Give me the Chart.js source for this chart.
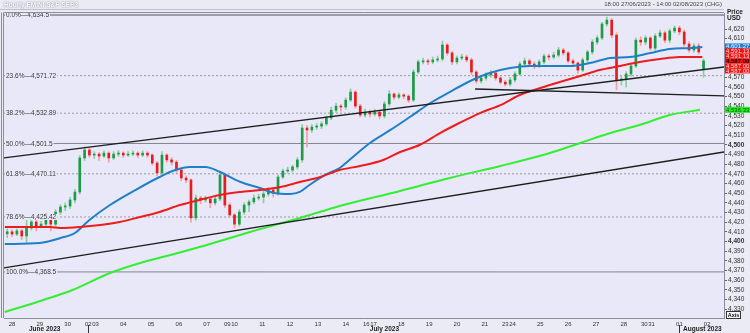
<!DOCTYPE html>
<html lang="en">
<head>
<meta charset="UTF-8">
<title>Hourly EMINI S&amp;P SEP3</title>
<script src="https://cdn.jsdelivr.net/npm/chart.js"></script>
<style>
  html, body { margin: 0; padding: 0; background: #ebebf6; }
  #chart { display: block; }
</style>
</head>
<body>
<canvas id="chart" width="750" height="333"></canvas>
<script>
// candles, one per 4 hourly bars (x = trading hours since 18:00 27/06)
const opens = [4408,4410,4407.75,4411,4405.75,4414,4420.25,4416,4418,4426.5,4418,4430.5,4435.75,4436.75,4443,4451.25,4486.5,4494.75,4489.5,4490.5,
  4488.5,4491.5,4486.5,4490.5,4491.5,4489.5,4490.5,4491.5,4489.5,4491.5,4489.5,4481.25,4471,4489.5,4484.5,4482.25,4474,4465.75,4463.75,4424.5,
  4445,4443,4444,4440,4444,4469,4437.75,4427.5,4418,4430.5,4437.75,4441,4445,4446,4449.25,4453.25,4450.25,4466.75,4473,4474,
  4477.25,4484.5,4517.5,4515.5,4518.5,4519.5,4521.75,4528,4536,4540.25,4539.25,4546.5,4554.75,4540.25,4531,4534,4532,4534,4530,4542.5,
  4552.75,4549.5,4551.75,4550.5,4546.5,4575.5,4586,4587,4586,4588,4589,4603.5,4595.25,4586,4590,4591,4588,4575.5,4566.25,4569.25,
  4572.5,4574.5,4569.25,4565,4563,4567.25,4573.5,4583.75,4587,4583.75,4581.75,4586,4592,4591,4593,4598.25,4595.25,4587,4584.75,4577.5,
  4588,4596.25,4606.5,4610.75,4625.25,4629.25,4613.75,4567.25,4568.25,4573.5,4581.75,4608.5,4606.5,4610.75,4600.25,4612.75,4616,4608.5,4618,4621,
  4617,4604.5,4598.25,4602.5,4578];
const highs = [4413,4412,4413,4412.5,4422,4423,4422,4421,4429,4428,4433,4438,4440,4446,4454,4489,4498,4497,4493,4492,
  4494,4493,4493,4494,4493,4493,4494,4493,4494,4493,4491,4483,4493,4491,4487,4484,4476,4468,4465,4448,
  4447,4447,4446,4447,4473,4471,4440,4429,4433,4440,4443,4448,4449,4452,4456,4455,4469,4475,4477,4479,
  4487,4521,4520,4521,4522,4524,4530,4539,4543,4542,4549,4558,4556,4542,4537,4536,4537,4536,4545,4556,
  4554,4554,4553,4552,4578,4588,4590,4589,4591,4592,4607.5,4605,4597,4592,4594,4593,4590,4577,4571,4575,
  4577,4576,4571,4567,4570,4576,4586,4590,4589,4586,4588,4594,4594,4596,4601,4600,4597,4589,4586,4590,
  4598,4609,4613,4627,4632.5,4631,4616,4571,4576,4584,4611,4612,4613,4612,4615,4619,4618,4620,4623,4623,
  4619,4607,4605,4605,4589];
const lows = [4404,4405,4406,4402,4399,4412,4411,4414,4416,4411,4416,4428,4432,4434,4440,4449,4484,4487,4486,4484,
  4487,4482,4485,4488,4487,4488,4489,4487,4488,4487,4479,4468,4469,4482,4479,4471,4463,4461,4420,4422,
  4439,4441,4435,4438,4442,4435,4425,4414,4416,4428,4431,4439,4443,4440,4447,4446,4448,4465,4471,4472,
  4475,4482,4498,4513,4516,4517,4520,4526,4534,4535,4537,4545,4538,4529,4529,4529,4530,4527,4528,4540,
  4547,4548,4548,4544,4545,4574,4584,4583,4584,4586,4587,4593,4583,4584,4588,4586,4573,4564,4564,4567,
  4570,4567,4563,4561,4561,4565,4572,4582,4581,4579,4580,4584,4588,4589,4591,4593,4585,4582,4574,4576,
  4586,4594,4604,4609,4623,4611,4557,4562,4560,4571,4580,4603,4604,4598,4598,4611,4606,4606,4616,4614,
  4602,4596,4596,4594,4570];
const closes = [4410,4407.75,4411,4405.75,4414,4420.25,4416,4418,4426.5,4418,4430.5,4435.75,4436.75,4443,4451.25,4486.5,4494.75,4489.5,4490.5,4488.5,
  4491.5,4486.5,4490.5,4491.5,4489.5,4490.5,4491.5,4489.5,4491.5,4489.5,4481.25,4471,4489.5,4484.5,4482.25,4474,4465.75,4463.75,4424.5,4445,
  4443,4444,4440,4444,4469,4437.75,4427.5,4418,4430.5,4437.75,4441,4445,4446,4449.25,4453.25,4450.25,4466.75,4473,4474,4477.25,
  4484.5,4517.5,4515.5,4518.5,4519.5,4521.75,4528,4536,4540.25,4539.25,4546.5,4554.75,4540.25,4531,4534,4532,4534,4530,4542.5,4552.75,
  4549.5,4551.75,4550.5,4546.5,4575.5,4586,4587,4586,4588,4589,4603.5,4595.25,4586,4590,4591,4588,4575.5,4566.25,4569.25,4572.5,
  4574.5,4569.25,4565,4563,4567.25,4573.5,4583.75,4587,4583.75,4581.75,4586,4592,4591,4593,4598.25,4595.25,4587,4584.75,4577.5,4588,
  4596.25,4606.5,4610.75,4625.25,4629.25,4613.75,4567.25,4568.25,4573.5,4581.75,4608.5,4606.5,4610.75,4600.25,4612.75,4616,4608.5,4618,4621,4617,
  4604.5,4598.25,4602.5,4596.25,4587];

// moving averages (hour, value)
const blueHours = [0,29,46,58,70,87,108,128,141,153,166,178,195,211,223,236,244,252,265,277,285,302,319,335,352,368,385,401,418,434,451,467,484,501,517,534,550,567,577];
const blueVals = [4397.4,4398.5,4403.6,4408.8,4422.3,4437.8,4453.3,4466.8,4474.0,4477.2,4477.2,4472.0,4461.6,4455.4,4450.2,4449.2,4451.3,4458.5,4468.9,4476.1,4484.4,4502.0,4515.5,4528.9,4543.4,4554.8,4566.2,4574.5,4579.6,4581.7,4581.7,4581.7,4584.8,4590.0,4591.0,4595.2,4599.3,4600.3,4601.27];
const redHours = [0,37,46,62,79,95,112,128,145,161,178,195,211,228,244,261,277,294,313,327,343,360,376,393,410,426,443,459,476,492,509,525,542,558,577];
const redVals = [4415.0,4415.0,4414.0,4415.0,4417.1,4420.2,4425.4,4430.6,4437.8,4443.0,4448.2,4451.3,4453.3,4456.4,4461.6,4466.8,4474.0,4478.2,4484.4,4492.7,4499.9,4512.3,4522.7,4533.0,4541.3,4551.7,4558.9,4565.1,4571.4,4577.6,4581.7,4585.9,4589.0,4591.0,4591.13];
const greenHours = [0,32,56,87,112,137,161,203,244,277,327,368,410,451,476,501,525,550,575];
const greenVals = [4327.0,4339.5,4349.8,4367.4,4377.8,4386.0,4394.3,4409.9,4424.3,4436.8,4452.3,4465.8,4478.2,4491.6,4502.0,4512.3,4520.6,4531.0,4536.33];

// trend lines: [hour, price] end points
const upperChannel = [[-0.66, 4486.5], [594.9, 4580.7]];
const lowerChannel = [[-0.66, 4372.6], [594.9, 4492.7]];
const supportLine = [[389, 4557.9], [594.9, 4550.7]];

// fibonacci retracement
const fibPct = ['0.0%', '23.6%', '38.2%', '50.0%', '61.8%', '78.6%', '100.0%'];
const fibLevels = [4634.5, 4571.72, 4532.89, 4501.5, 4470.11, 4425.42, 4368.5];

// axis labels
const dayLabels = ['28','29','30','02','03','04','05','06','07','09','10','11','12','13','14','16','17','18','19','20','21','23','24','25','26','27','28','30','31','01','02'];
const dayHours = [6,29,52,69,75,98,121,144,167,184,190,213,236,259,282,299,305,328,351,374,397,414,420,443,466,489,512,529,535,558,581];
const monthLabels = ['June 2023', 'July 2023', 'August 2023'];
const monthHours = [33, 314, 577];
const monthStarts = [69, 558];
const yTicks = [4330,4340,4350,4360,4370,4380,4390,4400,4410,4420,4430,4440,4450,4460,4470,4480,4490,4500,4510,4520,4530,4540,4550,4560,4570,4580,4590,4600,4610,4620];

// price tags on the right
const tagValues = [4601.27, 4591.13, 4591.13, 4587.00, 4587.00, 4587.00];
const greenTag = 4536.33;

const FONT = '"Liberation Sans", Arial, sans-serif';
Chart.defaults.font.family = FONT;
const X_MIN = -0.66, X_MAX = 594.9;

const xs = closes.map((c, i) => i * 4 + 2);
const up = closes.map((c, i) => c >= opens[i]);
const fmt = v => v.toLocaleString('en-US', { maximumFractionDigits: 2 });
const fmt2 = v => v.toLocaleString('en-US', { minimumFractionDigits: 2, maximumFractionDigits: 2 });

const pts = (hs, vs) => hs.map((h, i) => ({ x: h, y: vs[i] }));
const seg = p => p.map(q => ({ x: q[0], y: q[1] }));

const datasets = [];

fibLevels.forEach((lv, k) => {
    const solid = ['0.0%', '50.0%', '100.0%'].includes(fibPct[k]);
    datasets.push({
        type: 'line', data: [{ x: X_MIN, y: lv }, { x: X_MAX, y: lv }],
        borderColor: solid ? '#85858f' : '#9a9aa2', borderWidth: solid ? (k === 0 ? 1.6 : 1) : 1,
        borderDash: solid ? [] : [2, 2], pointRadius: 0, order: 30
    });
});

datasets.push({
    type: 'bar', data: xs.map((x, i) => ({ x: x, y: [lows[i], highs[i]] })),
    backgroundColor: up.map(u => u ? '#8ccf9c' : '#f2a0a0'),
    barThickness: 1, grouped: false, borderWidth: 0, order: 12
});
datasets.push({
    type: 'bar', data: xs.map((x, i) => ({ x: x, y: [opens[i], closes[i]] })),
    backgroundColor: up.map(u => u ? '#1f9a48' : '#e81c1c'),
    barThickness: 2, minBarLength: 1, grouped: false, borderWidth: 0, order: 11
});

const maLine = (data, color) => ({
    type: 'line', data: data, borderColor: color, borderWidth: 2, pointRadius: 0,
    cubicInterpolationMode: 'monotone', order: 5
});
datasets.push(maLine(pts(greenHours, greenVals), '#33ee33'));
datasets.push(maLine(pts(redHours, redVals), '#ee1c1c'));
datasets.push(maLine(pts(blueHours, blueVals), '#1f80c8'));

[upperChannel, lowerChannel, supportLine].forEach(l => {
    datasets.push({ type: 'line', data: seg(l), borderColor: '#1e1e1e', borderWidth: 1.3, pointRadius: 0, order: 2 });
});

const decor = {
    id: 'decor',
    beforeDraw(chart) {
        const { ctx, width, height, chartArea: a } = chart;
        ctx.save();
        ctx.fillStyle = '#ebebf6';
        ctx.fillRect(0, 0, width, height);
        ctx.fillStyle = '#e8e8f8';
        ctx.fillRect(a.left, a.top, a.right - a.left, a.bottom - a.top);
        ctx.restore();
    },
    afterDatasetsDraw(chart) {
        const { ctx, chartArea: a, scales: { y } } = chart;
        ctx.save();
        ctx.font = '6.5px ' + FONT;
        ctx.textBaseline = 'middle';
        fibLevels.forEach((lv, k) => {
            const py = y.getPixelForValue(lv);
            const txt = fibPct[k] + '\u2014' + fmt(lv);
            const w = ctx.measureText(txt).width;
            ctx.fillStyle = '#e8e8f8';
            ctx.fillRect(a.left + 1, py - 3, w + 2, 6);
            ctx.fillStyle = '#3a3a3a';
            ctx.fillText(txt, a.left + 2, py + 0.5);
        });
        ctx.restore();
    },
    afterDraw(chart) {
        const { ctx, chartArea: a, scales: { x, y } } = chart;
        ctx.save();
        // frame
        ctx.strokeStyle = '#8d8d99';
        ctx.lineWidth = 1;
        ctx.beginPath();
        ctx.moveTo(a.left - 0.5, a.bottom); ctx.lineTo(a.left - 0.5, a.top - 0.5); ctx.lineTo(a.right, a.top - 0.5);
        ctx.moveTo(a.left - 2.5, a.bottom); ctx.lineTo(a.left - 2.5, a.top - 0.5);
        ctx.stroke();
        ctx.strokeStyle = '#c0c0cc';
        ctx.beginPath();
        ctx.moveTo(0, 9.5); ctx.lineTo(a.right, 9.5);
        ctx.stroke();

        // title
        ctx.font = 'bold 6.5px ' + FONT;
        ctx.textBaseline = 'middle';
        ctx.shadowColor = 'rgba(80,80,90,0.9)';
        ctx.shadowBlur = 1.5;
        ctx.fillStyle = '#ffffff';
        ctx.fillText('Hourly EMINI S&P SEP3', 4, 5);
        ctx.shadowBlur = 0;
        ctx.shadowColor = 'transparent';

        ctx.font = '6px ' + FONT;
        ctx.fillStyle = '#444';
        ctx.textAlign = 'right';
        ctx.fillText('18:00 27/06/2023 - 14:00 02/08/2023 (CHG)', a.right - 2, 4.5);
        ctx.textAlign = 'left';
        ctx.font = 'bold 6.5px ' + FONT;
        ctx.fillStyle = '#222';
        ctx.fillText('Price', a.right + 3, 12);
        ctx.fillText('USD', a.right + 3, 18);

        // month labels
        ctx.font = 'bold 6.5px ' + FONT;
        ctx.textAlign = 'center';
        monthLabels.forEach((m, k) => {
            ctx.fillText(m, x.getPixelForValue(monthHours[k]), 329);
        });
        ctx.strokeStyle = '#333';
        ctx.beginPath();
        monthStarts.forEach(h => {
            const px = Math.round(x.getPixelForValue(h)) + 0.5;
            ctx.moveTo(px, 325); ctx.lineTo(px, 333);
        });
        ctx.stroke();

        // price tags
        const rowH = 5;
        const anchor = y.getPixelForValue(tagValues[3]);
        ctx.textAlign = 'left';
        tagValues.forEach((v, k) => {
            const cy = anchor + (k - 3) * rowH;
            ctx.fillStyle = k === 0 ? '#2a7fd0' : '#f01010';
            ctx.fillRect(a.right + 1, cy - rowH / 2, 25, rowH);
            ctx.fillStyle = k === 3 ? '#111' : (k === 0 ? '#e8f0ff' : '#ffd8d8');
            ctx.font = (k === 3 ? 'bold ' : '') + '6px ' + FONT;
            ctx.fillText(fmt2(v), a.right + 2, cy + 0.5);
        });
        const gy = y.getPixelForValue(greenTag);
        ctx.fillStyle = '#22ee22';
        ctx.fillRect(a.right + 1, gy - 3, 25, 6);
        ctx.fillStyle = '#115511';
        ctx.font = '6px ' + FONT;
        ctx.fillText(fmt2(greenTag), a.right + 2, gy + 0.5);

        // axis box
        ctx.strokeStyle = '#333';
        ctx.strokeRect(a.right + 2.5, 311.5, 14, 7);
        ctx.fillStyle = '#f4f4fa';
        ctx.fillRect(a.right + 3, 312, 13, 6);
        ctx.fillStyle = '#111';
        ctx.font = 'bold 5.5px ' + FONT;
        ctx.textAlign = 'center';
        ctx.fillText('Axis', a.right + 9.5, 315.3);
        ctx.restore();
    }
};

new Chart(document.getElementById('chart'), {
    type: 'bar',
    data: { datasets: datasets },
    plugins: [decor],
    options: {
        responsive: false,
        animation: false,
        devicePixelRatio: 1,
        events: [],
        layout: { padding: { left: 4, top: 13, right: 0, bottom: 0 } },
        plugins: { legend: { display: false }, tooltip: { enabled: false } },
        scales: {
            x: {
                type: 'linear', min: X_MIN, max: X_MAX, offset: false,
                afterBuildTicks: s => { s.ticks = dayHours.map(v => ({ value: v })); },
                afterFit: s => { s.height = 15; },
                grid: { display: true, drawOnChartArea: false, drawTicks: false },
                border: { display: true, color: '#8d8d99' },
                ticks: {
                    autoSkip: false, maxRotation: 0, padding: 3, color: '#333',
                    font: { size: 6 },
                    callback: (v, i) => dayLabels[i]
                }
            },
            y: {
                type: 'linear', position: 'right', min: 4320.8, max: 4636.6,
                afterBuildTicks: s => { s.ticks = yTicks.map(v => ({ value: v })); },
                afterFit: s => { s.width = 26; },
                grid: { drawOnChartArea: false, drawTicks: true, tickLength: 3, color: '#666' },
                border: { display: true, color: '#8d8d99' },
                ticks: {
                    autoSkip: false, padding: 1, color: '#333',
                    font: c => ({ size: 6.5, weight: c.tick && c.tick.value % 100 === 0 ? 'bold' : 'normal' }),
                    callback: v => v.toLocaleString('en-US')
                }
            }
        }
    }
});
</script>
</body>
</html>
